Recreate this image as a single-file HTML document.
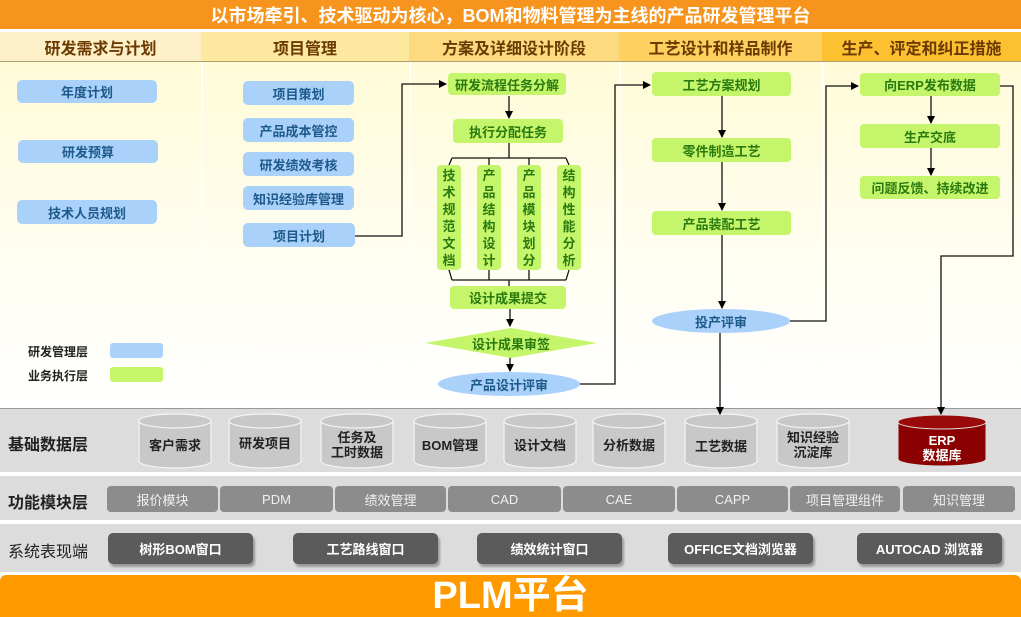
<!DOCTYPE html>
<html><head><meta charset="utf-8"><style>
*{margin:0;padding:0;box-sizing:border-box}
body{width:1021px;height:617px;position:relative;overflow:hidden;background:#fff;font-family:"Liberation Sans","Noto Sans CJK SC",sans-serif}
.a{position:absolute}
.c{display:flex;align-items:center;justify-content:center;text-align:center}
.hd{position:absolute;top:32px;height:30px;font-weight:bold;font-size:16px;color:#6b3a00;display:flex;align-items:center;justify-content:center;border-bottom:1px solid #b0a070}
.bl{position:absolute;background:#a9d1f9;border-radius:5px;color:#1f5a8c;font-weight:bold;font-size:13px;display:flex;align-items:center;justify-content:center}
.gr{position:absolute;background:#c5f56a;border-radius:4px;color:#2a7a10;font-weight:bold;font-size:13px;display:flex;align-items:center;justify-content:center}
.vt{position:absolute;background:#c5f56a;border-radius:4px;color:#2a7a10;font-weight:bold;font-size:13px;line-height:17px;text-align:center;padding-top:2px;width:24px;top:165px;height:105px}
.fm{position:absolute;top:486px;height:26px;background:#8c8c8c;border-radius:4px;color:#f0f0f0;font-size:13px;display:flex;align-items:center;justify-content:center}
.sy{position:absolute;top:533px;height:31px;width:145px;background:#5b5b5b;border-radius:5px;color:#fff;font-weight:bold;font-size:13px;display:flex;align-items:center;justify-content:center;box-shadow:2px 3px 2px #999}
.cl{position:absolute;font-size:13px;font-weight:bold;color:#222;text-align:center;line-height:15px}
</style></head><body>
<div class="a c" style="left:0;top:0;width:1021px;height:29px;background:#f7941d;color:#fff;font-weight:bold;font-size:18px">以市场牵引、技术驱动为核心，BOM和物料管理为主线的产品研发管理平台</div>
<div class="hd" style="left:0;width:201px;background:#fdf0c8">研发需求与计划</div>
<div class="hd" style="left:201px;width:208px;background:#fde8a0">项目管理</div>
<div class="hd" style="left:409px;width:210px;background:#fdda80">方案及详细设计阶段</div>
<div class="hd" style="left:619px;width:203px;background:#fdd060">工艺设计和样品制作</div>
<div class="hd" style="left:822px;width:199px;background:#fcc030">生产、评定和纠正措施</div>
<div class="a" style="left:0;top:62px;width:1021px;height:346px;background:linear-gradient(#fffbd8,#fffef2 60%,#fff)"></div>
<div class="a" style="left:201px;top:62px;width:2px;height:346px;background:#fffef8"></div>
<div class="a" style="left:409px;top:62px;width:2px;height:346px;background:#fffef8"></div>
<div class="a" style="left:619px;top:62px;width:2px;height:346px;background:#fffef8"></div>
<div class="a" style="left:822px;top:62px;width:2px;height:346px;background:#fffef8"></div>

<div class="a" style="left:0;top:408px;width:1021px;height:64px;background:#dcdcdc;border-top:1px solid #999"></div>
<div class="a" style="left:0;top:476px;width:1021px;height:44px;background:#dcdcdc"></div>
<div class="a" style="left:0;top:524px;width:1021px;height:48px;background:#dcdcdc"></div>

<div class="bl" style="left:17px;top:80px;width:140px;height:23px">年度计划</div>
<div class="bl" style="left:18px;top:140px;width:140px;height:23px">研发预算</div>
<div class="bl" style="left:17px;top:200px;width:140px;height:24px">技术人员规划</div>
<div class="bl" style="left:243px;top:81px;width:111px;height:24px">项目策划</div>
<div class="bl" style="left:243px;top:118px;width:111px;height:24px">产品成本管控</div>
<div class="bl" style="left:243px;top:152px;width:111px;height:24px">研发绩效考核</div>
<div class="bl" style="left:243px;top:186px;width:111px;height:24px">知识经验库管理</div>
<div class="bl" style="left:243px;top:223px;width:112px;height:24px">项目计划</div>

<div class="a" style="left:28px;top:343px;font-size:12px;font-weight:bold;color:#222">研发管理层</div>
<div class="a" style="left:110px;top:343px;width:53px;height:15px;background:#a9d1f9;border-radius:3px"></div>
<div class="a" style="left:28px;top:367px;font-size:12px;font-weight:bold;color:#222">业务执行层</div>
<div class="a" style="left:110px;top:367px;width:53px;height:15px;background:#c5f56a;border-radius:3px"></div>

<svg class="a" style="left:0;top:0" width="1021" height="617">
<g fill="#c8c8c8" stroke="#f4f4f4" stroke-width="1.2">
<path d="M139,421V461A36,7 0 0 0 211,461V421"/><ellipse cx="175" cy="421" rx="36" ry="7"/>
<path d="M229,421V461A36,7 0 0 0 301,461V421"/><ellipse cx="265" cy="421" rx="36" ry="7"/>
<path d="M321,421V461A36,7 0 0 0 393,461V421"/><ellipse cx="357" cy="421" rx="36" ry="7"/>
<path d="M414,421V461A36,7 0 0 0 486,461V421"/><ellipse cx="450" cy="421" rx="36" ry="7"/>
<path d="M504,421V461A36,7 0 0 0 576,461V421"/><ellipse cx="540" cy="421" rx="36" ry="7"/>
<path d="M593,421V461A36,7 0 0 0 665,461V421"/><ellipse cx="629" cy="421" rx="36" ry="7"/>
<path d="M685,421V461A36,7 0 0 0 757,461V421"/><ellipse cx="721" cy="421" rx="36" ry="7"/>
<path d="M777,421V461A36,7 0 0 0 849,461V421"/><ellipse cx="813" cy="421" rx="36" ry="7"/>
</g>
<path d="M898,422V459A44,7 0 0 0 986,459V422" fill="#8b0000" stroke="#ddd"/><ellipse cx="942" cy="422" rx="44" ry="7" fill="#9a0a0a" stroke="#ddd"/>
</svg>

<svg class="a" style="left:0;top:0" width="1021" height="617">
<defs><marker id="m" markerWidth="8" markerHeight="8" refX="7" refY="4" orient="auto" markerUnits="userSpaceOnUse"><path d="M0,0L8,4L0,8z" fill="#000"/></marker></defs>
<g fill="none" stroke="#111" stroke-width="1.3">
<path d="M355,236H402V84H446" marker-end="url(#m)"/>
<path d="M580,384H615V85H650" marker-end="url(#m)"/>
<path d="M790,321H826V86H858" marker-end="url(#m)"/>
<path d="M1000,86H1013V256H941V414" marker-end="url(#m)"/>
<path d="M509,96V118" marker-end="url(#m)"/>
<path d="M509,143V158M452,158H566M452,158L449,165M489,158L489,165M529,158L529,165M566,158L569,165"/>
<path d="M449,270L452,280M489,270L489,280M529,270L529,280M569,270L566,280M452,280H566M509,280V286"/>
<path d="M510,309V326" marker-end="url(#m)"/>
<path d="M510,357V371" marker-end="url(#m)"/>
<path d="M722,96V137" marker-end="url(#m)"/>
<path d="M722,162V210" marker-end="url(#m)"/>
<path d="M722,235V308" marker-end="url(#m)"/>
<path d="M720,333V414" marker-end="url(#m)"/>
<path d="M931,96V123" marker-end="url(#m)"/>
<path d="M931,148V175" marker-end="url(#m)"/>
</g>
<polygon points="425,343 511,328 597,343 511,358" fill="#c5f56a"/>
<ellipse cx="509" cy="384" rx="71" ry="12" fill="#a9d1f9"/>
<ellipse cx="721" cy="321" rx="69" ry="12" fill="#a9d1f9"/>
</svg>

<div class="gr" style="left:448px;top:73px;width:118px;height:22px">研发流程任务分解</div>
<div class="gr" style="left:453px;top:119px;width:110px;height:24px">执行分配任务</div>
<div class="vt" style="left:437px">技<br>术<br>规<br>范<br>文<br>档</div>
<div class="vt" style="left:477px">产<br>品<br>结<br>构<br>设<br>计</div>
<div class="vt" style="left:517px">产<br>品<br>模<br>块<br>划<br>分</div>
<div class="vt" style="left:557px">结<br>构<br>性<br>能<br>分<br>析</div>
<div class="gr" style="left:450px;top:286px;width:116px;height:23px">设计成果提交</div>
<div class="a c" style="left:425px;top:333px;width:172px;height:20px;color:#2a7a10;font-weight:bold;font-size:13px">设计成果审签</div>
<div class="a c" style="left:438px;top:373px;width:142px;height:22px;color:#1f5a8c;font-weight:bold;font-size:13px">产品设计评审</div>

<div class="gr" style="left:652px;top:72px;width:139px;height:24px">工艺方案规划</div>
<div class="gr" style="left:652px;top:138px;width:139px;height:24px">零件制造工艺</div>
<div class="gr" style="left:652px;top:211px;width:139px;height:24px">产品装配工艺</div>
<div class="a c" style="left:652px;top:310px;width:138px;height:22px;color:#1f5a8c;font-weight:bold;font-size:13px">投产评审</div>

<div class="gr" style="left:860px;top:73px;width:140px;height:23px">向ERP发布数据</div>
<div class="gr" style="left:860px;top:124px;width:140px;height:24px">生产交底</div>
<div class="gr" style="left:860px;top:176px;width:140px;height:23px">问题反馈、持续改进</div>

<div class="a" style="left:8px;top:431px;font-size:16px;font-weight:bold;color:#222">基础数据层</div>
<div class="a" style="left:8px;top:489px;font-size:16px;font-weight:bold;color:#222">功能模块层</div>
<div class="a" style="left:8px;top:538px;font-size:16px;color:#222">系统表现端</div>

<div class="cl" style="left:139px;top:438px;width:72px">客户需求</div>
<div class="cl" style="left:229px;top:436px;width:72px">研发项目</div>
<div class="cl" style="left:321px;top:430px;width:72px">任务及<br>工时数据</div>
<div class="cl" style="left:414px;top:438px;width:72px">BOM管理</div>
<div class="cl" style="left:504px;top:438px;width:72px">设计文档</div>
<div class="cl" style="left:593px;top:438px;width:72px">分析数据</div>
<div class="cl" style="left:685px;top:439px;width:72px">工艺数据</div>
<div class="cl" style="left:777px;top:430px;width:72px">知识经验<br>沉淀库</div>
<div class="cl" style="left:898px;top:433px;width:88px;color:#fff">ERP<br>数据库</div>

<div class="fm" style="left:107px;width:111px">报价模块</div>
<div class="fm" style="left:220px;width:113px">PDM</div>
<div class="fm" style="left:335px;width:111px">绩效管理</div>
<div class="fm" style="left:448px;width:113px">CAD</div>
<div class="fm" style="left:563px;width:112px">CAE</div>
<div class="fm" style="left:677px;width:111px">CAPP</div>
<div class="fm" style="left:790px;width:110px">项目管理组件</div>
<div class="fm" style="left:903px;width:112px">知识管理</div>

<div class="sy" style="left:108px">树形BOM窗口</div>
<div class="sy" style="left:293px">工艺路线窗口</div>
<div class="sy" style="left:477px">绩效统计窗口</div>
<div class="sy" style="left:668px">OFFICE文档浏览器</div>
<div class="sy" style="left:857px">AUTOCAD 浏览器</div>

<div class="a c" style="left:0;top:575px;width:1021px;height:42px;background:#ff9900;border-radius:6px 6px 0 0;color:#fff;font-weight:bold;font-size:38px;line-height:42px;overflow:hidden">PLM平台</div>
</body></html>
